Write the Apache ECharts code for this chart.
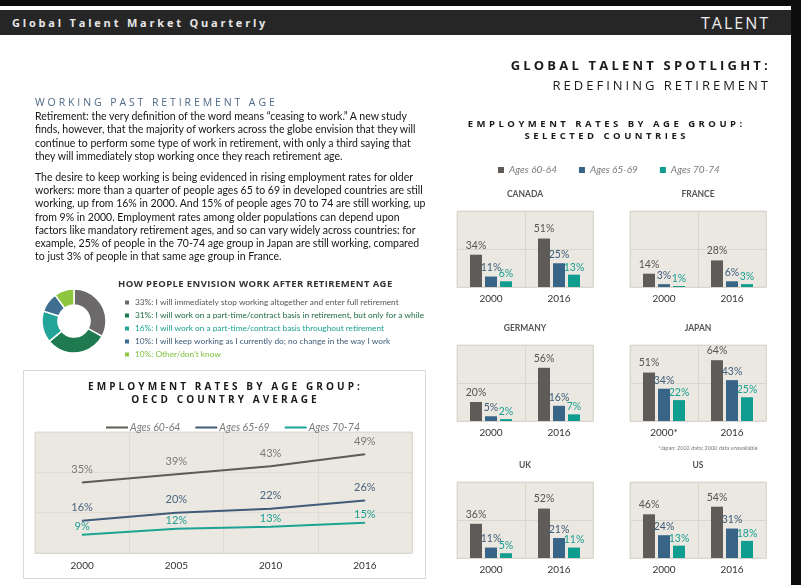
<!DOCTYPE html>
<html>
<head>
<meta charset="utf-8">
<script src="https://cdn.jsdelivr.net/npm/echarts@6/dist/echarts.min.js"></script>
<style>
  html, body { margin: 0; padding: 0; background: #fff; }
  #page { position: relative; width: 801px; height: 585px; overflow: hidden; background: #fff; }
  #main { position: absolute; left: 0; top: 0; width: 801px; height: 585px; }
  .txt { position: absolute; white-space: nowrap; pointer-events: none; z-index: 2; }
  .band { position: absolute; z-index: 1; }
  .body { font-family: Lato, sans-serif; font-size: 10.5px; color: #151515; line-height: 13.3px; left: 35px; }
  .head { font-family: "Open Sans", sans-serif; font-weight: 700; color: #1a1a1a; }
</style>
</head>
<body>
<div id="page">
  <div id="main"></div>

  <div class="band" style="left:0;top:0;width:801px;height:6px;background:#0c0c0c"></div>
  <div class="band" style="left:0;top:10px;width:791px;height:25px;background:#262626"></div>
  <div class="band" style="left:791px;top:0;width:10px;height:585px;background:#0c0c0c"></div>
  <div class="band" style="left:23px;top:370px;width:401px;height:207px;border:1px solid #d9d9d9"></div>

  <div class="txt" style="left:12px;top:11px;line-height:24px;font-family:'Open Sans',sans-serif;font-weight:700;font-size:11px;letter-spacing:2.8px;color:#e6e6e6">Global Talent Market Quarterly</div>
  <div class="txt" style="right:31px;top:11px;line-height:24px;font-family:'Open Sans',sans-serif;font-size:16px;letter-spacing:2px;color:#eeeeee">TALENT</div>

  <div class="txt head" style="right:30px;top:55px;line-height:20px;font-size:13px;letter-spacing:3.2px">GLOBAL TALENT SPOTLIGHT:</div>
  <div class="txt" style="right:30px;top:75px;line-height:20px;font-family:'Open Sans',sans-serif;font-size:13px;letter-spacing:3px;color:#1a1a1a">REDEFINING RETIREMENT</div>

  <div class="txt" style="left:35px;top:96px;line-height:13px;font-family:'Open Sans',sans-serif;font-size:10.5px;letter-spacing:2.9px;color:#4e6a86">WORKING PAST RETIREMENT AGE</div>

  <div class="txt body" style="top:110px">Retirement: the very definition of the word means “ceasing to work.” A new study<br>finds, however, that the majority of workers across the globe envision that they will<br>continue to perform some type of work in retirement, with only a third saying that<br>they will immediately stop working once they reach retirement age.</div>

  <div class="txt body" style="top:170.7px">The desire to keep working is being evidenced in rising employment rates for older<br>workers: more than a quarter of people ages 65 to 69 in developed countries are still<br>working, up from 16% in 2000. And 15% of people ages 70 to 74 are still working, up<br>from 9% in 2000. Employment rates among older populations can depend upon<br>factors like mandatory retirement ages, and so can vary widely across countries: for<br>example, 25% of people in the 70-74 age group in Japan are still working, compared<br>to just 3% of people in that same age group in France.</div>

  <div class="txt head" style="left:118px;top:277px;line-height:13px;font-size:9.5px;letter-spacing:0.4px;color:#333">HOW PEOPLE ENVISION WORK AFTER RETIREMENT AGE</div>

  <div class="txt head" style="left:23px;width:402px;text-align:center;padding-left:3px;box-sizing:border-box;top:380.3px;line-height:12.8px;font-size:10px;letter-spacing:3.1px">EMPLOYMENT RATES BY AGE GROUP:<br>OECD COUNTRY AVERAGE</div>

  <div class="txt head" style="left:440px;width:330px;text-align:center;padding-left:3.5px;box-sizing:border-box;top:118px;line-height:12px;font-size:9.5px;letter-spacing:3.5px">EMPLOYMENT RATES BY AGE GROUP:<br>SELECTED COUNTRIES</div>
</div>
<script>
// OECD average (line chart)
var oecdYears = ["2000", "2005", "2010", "2016"];
var oecd6064 = [35, 39, 43, 49];
var oecd6569 = [16, 20, 22, 26];
var oecd7074 = [9, 12, 13, 15];

// selected countries (bar charts), values for 2000 and 2016
var countries = ["CANADA", "FRANCE", "GERMANY", "JAPAN", "UK", "US"];
var barYears = ["2000", "2016"];
var japanYears = ["2000*", "2016"];
var ages6064 = [[34, 51], [14, 28], [20, 56], [51, 64], [36, 52], [46, 54]];
var ages6569 = [[11, 25], [3, 6], [5, 16], [34, 43], [11, 21], [24, 31]];
var ages7074 = [[6, 13], [1, 3], [2, 7], [22, 25], [5, 11], [13, 18]];

// donut
var envisionShares = [33, 31, 16, 10, 10];
var envisionLabels = [
  "33%: I will immediately stop working altogether and enter full retirement",
  "31%: I will work on a part-time/contract basis in retirement, but only for a while",
  "16%: I will work on a part-time/contract basis throughout retirement",
  "10%: I will keep working as I currently do; no change in the way I work",
  "10%: Other/don't know",
];

var ageNames = ["Ages 60-64", "Ages 65-69", "Ages 70-74"];
var lineColors = ["#5f5a55", "#3f5b78", "#1ba394"];
var lineLabelColors = ["#7d7873", "#4a6480", "#1f9e92"];
var barColors = ["#5f5b58", "#386587", "#0f9d8f"];
var barLabelColors = ["#555555", "#3e5c78", "#1a9e91"];
var donutColors = ["#6b6969", "#1f7a4f", "#23a59a", "#3f6f90", "#8dc63f"];
var donutTextColors = ["#555555", "#1e6b44", "#1fa092", "#3e5b77", "#7cbf3c"];

var FONT = "Lato, sans-serif";
var plotBg = "#ebe8e1";
var gridLine = "#d9d6cd";

var grids = [
  {
    left: 35, top: 432, width: 377, height: 121,
    show: true, backgroundColor: plotBg, borderColor: "#e0ddd5", borderWidth: 1,
  },
];
var xAxes = [
  {
    gridIndex: 0, type: "category", data: oecdYears, boundaryGap: true,
    axisTick: { show: false },
    axisLine: { lineStyle: { color: gridLine } },
    splitLine: { show: true, lineStyle: { color: "#dedbd2" } },
    axisLabel: { color: "#333", fontFamily: FONT, fontSize: 10, margin: 8 },
  },
];
var yAxes = [
  {
    gridIndex: 0, type: "value", min: 0, max: 60, interval: 20,
    axisLabel: { show: false }, axisLine: { show: false }, axisTick: { show: false },
    splitLine: { lineStyle: { color: "#e0ddd5" } },
  },
];
var series = [];

var oecdData = [oecd6064, oecd6569, oecd7074];
for (var k = 0; k < 3; k++) {
  series.push({
    name: ageNames[k], type: "line", xAxisIndex: 0, yAxisIndex: 0,
    data: oecdData[k], symbol: "circle", symbolSize: 1,
    itemStyle: { color: lineColors[k] },
    lineStyle: { color: lineColors[k], width: 2 },
    label: {
      show: true, position: "top", distance: k == 2 ? 2 : 7,
      formatter: "{c}%", color: lineLabelColors[k], fontFamily: FONT, fontSize: 11,
    },
    animation: false,
  });
}

var cols = [457, 630];
var rows = [211, 345, 482];
var graphics = [];
var barData = [ages6064, ages6569, ages7074];

for (var c = 0; c < countries.length; c++) {
  var gx = cols[c % 2];
  var gy = rows[Math.floor(c / 2)];
  var gi = c + 1;
  grids.push({
    left: gx, top: gy, width: 136, height: 76,
    show: true, backgroundColor: plotBg, borderColor: "#e0ddd5", borderWidth: 1,
  });
  xAxes.push({
    gridIndex: gi, type: "category", data: countries[c] == "JAPAN" ? japanYears : barYears,
    axisTick: { show: false },
    axisLine: { lineStyle: { color: gridLine } },
    splitLine: { show: true, lineStyle: { color: gridLine } },
    axisLabel: { color: "#333", fontFamily: FONT, fontSize: 10, margin: 7 },
  });
  yAxes.push({
    gridIndex: gi, type: "value", min: 0, max: 80, interval: 40,
    axisLabel: { show: false }, axisLine: { show: false }, axisTick: { show: false },
    splitLine: { lineStyle: { color: gridLine } },
  });
  for (var k = 0; k < 3; k++) {
    series.push({
      name: ageNames[k], type: "bar", xAxisIndex: gi, yAxisIndex: gi,
      data: barData[k][c], barWidth: 12, barGap: "25%",
      itemStyle: { color: barColors[k] },
      label: {
        show: true, position: "top", distance: [4, 3, 2][k],
        formatter: "{c}%", color: barLabelColors[k], fontFamily: FONT, fontSize: 10.5,
      },
      animation: false,
    });
  }
  graphics.push({
    type: "text", x: gx + 68, y: gy - 17,
    style: {
      text: countries[c], fill: "#555", font: "bold 8.5px Lato, sans-serif",
      textAlign: "center", textVerticalAlign: "middle",
    },
  });
}

graphics.push({
  type: "text", x: 708, y: 448,
  style: {
    text: "*Japan: 2002 data; 2000 data unavailable", fill: "#777",
    font: "5.5px Lato, sans-serif", textAlign: "center", textVerticalAlign: "middle",
  },
});

series.push({
  type: "pie", center: [74, 321], radius: [16, 32], startAngle: 90, clockwise: true,
  label: { show: false }, labelLine: { show: false },
  itemStyle: { borderColor: "#fff", borderWidth: 1.5 },
  data: envisionShares.map(function (v, i) {
    return { name: envisionLabels[i], value: v, itemStyle: { color: donutColors[i] } };
  }),
  animation: false,
});

var option = {
  textStyle: { fontFamily: FONT },
  grid: grids,
  xAxis: xAxes,
  yAxis: yAxes,
  legend: [
    {
      left: 101, top: 417, icon: "rect", itemWidth: 22, itemHeight: 2, itemGap: 15,
      selectedMode: false,
      data: ageNames.map(function (n, i) {
        return { name: n, itemStyle: { color: lineColors[i] } };
      }),
      textStyle: { color: "#7a7a7a", fontStyle: "italic", fontSize: 10.5, fontFamily: FONT, padding: [0, 0, 0, -3] },
    },
    {
      left: 493, top: 160, icon: "rect", itemWidth: 6, itemHeight: 6, itemGap: 22,
      selectedMode: false,
      data: ageNames.map(function (n, i) {
        return { name: n, itemStyle: { color: barColors[i] } };
      }),
      textStyle: { color: "#7a7a7a", fontStyle: "italic", fontSize: 10, fontFamily: FONT },
    },
    {
      left: 118, top: 293.5, orient: "vertical", icon: "rect", itemWidth: 6, itemHeight: 6, itemGap: 5,
      selectedMode: false,
      data: envisionLabels.map(function (n, i) {
        return { name: n, textStyle: { color: donutTextColors[i] } };
      }),
      textStyle: { fontSize: 8.3, fontFamily: FONT },
    },
  ],
  graphic: graphics,
  series: series,
};

var myChart = echarts.init(document.getElementById("main"));
myChart.setOption(option);
</script>
</body>
</html>
